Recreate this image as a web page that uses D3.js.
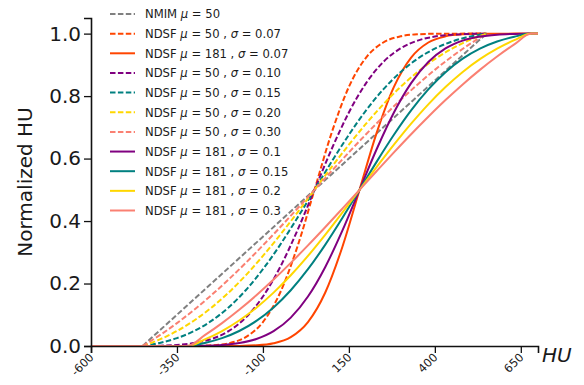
<!DOCTYPE html>
<html>
<head>
<meta charset="utf-8">
<script src="https://cdn.jsdelivr.net/npm/d3@7"></script>
<style>
  body { margin: 0; background: #fff; }
  text { font-family: "DejaVu Sans", sans-serif; fill: #1a1a1a; }
</style>
</head>
<body>
<div id="chart"></div>
<script>
// HU sample points (window of 1000 HU around each mu)
const hu50 = [-450, -400, -350, -300, -250, -200, -150, -100, -50, 0, 50, 100, 150, 200, 250, 300, 350, 400, 450, 500, 550];
const hu181 = [-319, -269, -219, -169, -119, -69, -19, 31, 81, 131, 181, 231, 281, 331, 381, 431, 481, 531, 581, 631, 681];
const huEdges = [-600, 700];

// normalized HU read at those points
const nmim50 = [0, 0.05, 0.1, 0.15, 0.2, 0.25, 0.3, 0.35, 0.4, 0.45, 0.5, 0.55, 0.6, 0.65, 0.7, 0.75, 0.8, 0.85, 0.9, 0.95, 1];
const ndsfS007 = [0, 0, 0.0001, 0.0004, 0.0021, 0.0086, 0.0284, 0.0766, 0.1705, 0.317, 0.5, 0.683, 0.8295, 0.9234, 0.9716, 0.9914, 0.9979, 0.9996, 0.9999, 1, 1];
const ndsfS010 = [0, 0.0009, 0.0034, 0.0094, 0.0223, 0.0474, 0.0909, 0.1584, 0.2523, 0.3693, 0.5, 0.6307, 0.7477, 0.8416, 0.9091, 0.9526, 0.9777, 0.9906, 0.9966, 0.9991, 1];
const ndsfS015 = [0, 0.0099, 0.0252, 0.048, 0.0802, 0.1234, 0.1786, 0.2458, 0.3238, 0.4097, 0.5, 0.5903, 0.6762, 0.7542, 0.8214, 0.8766, 0.9198, 0.952, 0.9748, 0.9901, 1];
const ndsfS020 = [0, 0.021, 0.048, 0.0817, 0.1226, 0.1709, 0.2263, 0.2883, 0.3556, 0.4268, 0.5, 0.5732, 0.6444, 0.7117, 0.7737, 0.8291, 0.8774, 0.9183, 0.952, 0.979, 1];
const ndsfS030 = [0, 0.0346, 0.0733, 0.116, 0.1626, 0.2127, 0.2661, 0.322, 0.3801, 0.4397, 0.5, 0.5603, 0.6199, 0.678, 0.7339, 0.7873, 0.8374, 0.884, 0.9267, 0.9654, 1];

const xTicks = [-600, -350, -100, 150, 400, 650];
const yTicks = [0, 0.2, 0.4, 0.6, 0.8, 1.0];

// legend order = drawing order
const series = [
    { label: ["NMIM ", "μ", " = 50"], hu: hu50, v: nmim50, color: "grey", dashed: true },
    { label: ["NDSF ", "μ", " = 50 , ", "σ", " = 0.07"], hu: hu50, v: ndsfS007, color: "orangered", dashed: true },
    { label: ["NDSF ", "μ", " = 181 , ", "σ", " = 0.07"], hu: hu181, v: ndsfS007, color: "orangered", dashed: false },
    { label: ["NDSF ", "μ", " = 50 , ", "σ", " = 0.10"], hu: hu50, v: ndsfS010, color: "purple", dashed: true },
    { label: ["NDSF ", "μ", " = 50 , ", "σ", " = 0.15"], hu: hu50, v: ndsfS015, color: "teal", dashed: true },
    { label: ["NDSF ", "μ", " = 50 , ", "σ", " = 0.20"], hu: hu50, v: ndsfS020, color: "gold", dashed: true },
    { label: ["NDSF ", "μ", " = 50 , ", "σ", " = 0.30"], hu: hu50, v: ndsfS030, color: "salmon", dashed: true },
    { label: ["NDSF ", "μ", " = 181 , ", "σ", " = 0.1"], hu: hu181, v: ndsfS010, color: "purple", dashed: false },
    { label: ["NDSF ", "μ", " = 181 , ", "σ", " = 0.15"], hu: hu181, v: ndsfS015, color: "teal", dashed: false },
    { label: ["NDSF ", "μ", " = 181 , ", "σ", " = 0.2"], hu: hu181, v: ndsfS020, color: "gold", dashed: false },
    { label: ["NDSF ", "μ", " = 181 , ", "σ", " = 0.3"], hu: hu181, v: ndsfS030, color: "salmon", dashed: false },
];

const width = 584, height = 385;
const margin = { top: 18, right: 46, bottom: 39, left: 91 };

const svg = d3.select("#chart").append("svg")
    .attr("width", width)
    .attr("height", height);

const x = d3.scaleLinear().domain(huEdges).range([margin.left, width - margin.right]);
const y = d3.scaleLinear().domain([0, 1.05]).range([height - margin.bottom, margin.top]);

const line = d3.line()
    .x(d => x(d[0]))
    .y(d => y(d[1]))
    .curve(d3.curveMonotoneX);

series.forEach(s => {
    let pts = s.hu.map((h, i) => [h, s.v[i]]);
    // solid curves run flat out to the axis limits
    if (!s.dashed) pts = [[huEdges[0], 0]].concat(pts, [[huEdges[1], 1]]);
    svg.append("path")
        .datum(pts)
        .attr("fill", "none")
        .attr("stroke", s.color)
        .attr("stroke-width", 2)
        .attr("stroke-dasharray", s.dashed ? "5.5,2.4" : null)
        .attr("d", line);
});

// axes
const xAxis = svg.append("g")
    .attr("transform", `translate(0,${height - margin.bottom})`)
    .call(d3.axisBottom(x).tickValues(xTicks).tickSize(7).tickFormat(""));
const yAxis = svg.append("g")
    .attr("transform", `translate(${margin.left},0)`)
    .call(d3.axisLeft(y).tickValues(yTicks).tickSize(7).tickFormat(d3.format(".1f")));

[xAxis, yAxis].forEach(a => {
    a.select(".domain").attr("stroke", "#111").attr("stroke-width", 1.6);
    a.selectAll(".tick line").attr("stroke", "#111").attr("stroke-width", 1.3);
});
yAxis.selectAll(".tick text")
    .attr("x", -10)
    .style("font-size", "20px")
    .style("font-family", "DejaVu Sans");

// rotated x tick labels
xAxis.selectAll(".tick").append("text")
    .attr("text-anchor", "end")
    .attr("transform", "translate(3,12) rotate(-45)")
    .style("font-size", "11.5px")
    .text(d => d);

svg.append("text")
    .attr("x", 542)
    .attr("y", 362)
    .style("font-size", "20px")
    .style("font-style", "italic")
    .text("HU");

svg.append("text")
    .attr("transform", "translate(32,182) rotate(-90)")
    .attr("text-anchor", "middle")
    .style("font-size", "20px")
    .text("Normalized HU");

// legend
const legend = svg.append("g");
series.forEach((s, i) => {
    const ly = 14 + i * 19.65;
    legend.append("line")
        .attr("x1", 110).attr("x2", 135)
        .attr("y1", ly).attr("y2", ly)
        .attr("stroke", s.color)
        .attr("stroke-width", 2)
        .attr("stroke-dasharray", s.dashed ? "5.5,2.4" : null);
    const t = legend.append("text")
        .attr("x", 145)
        .attr("y", ly + 4.3)
        .style("font-size", "11.6px");
    s.label.forEach(part => {
        t.append("tspan")
            .style("font-style", part === "μ" || part === "σ" ? "italic" : "normal")
            .text(part);
    });
});
</script>
</body>
</html>
